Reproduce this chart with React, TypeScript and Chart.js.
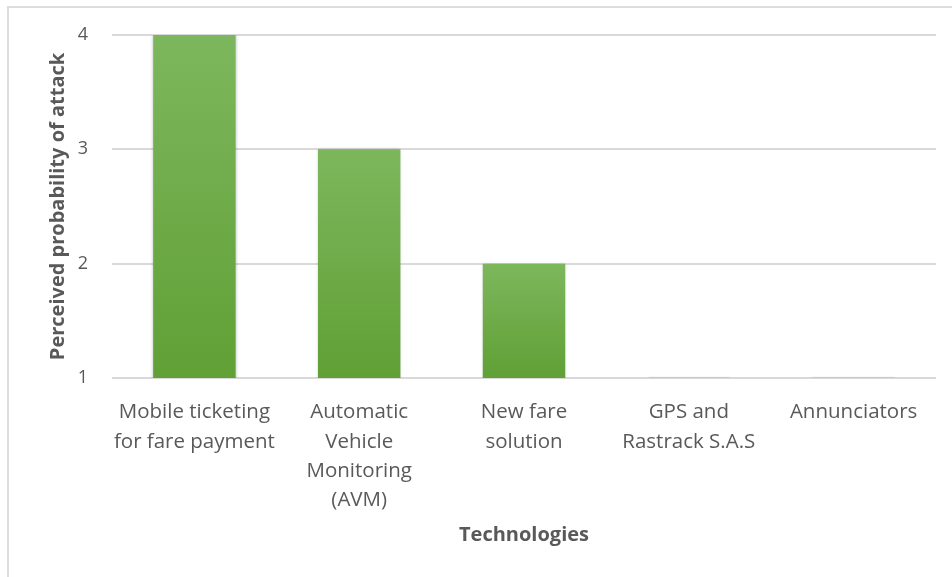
import React, { useEffect, useRef } from "react";
import { Chart, registerables } from "chart.js";

Chart.register(...registerables);

const categories: string[][] = [
  ["Mobile ticketing", "for fare payment"],
  ["Automatic", "Vehicle", "Monitoring", "(AVM)"],
  ["New fare", "solution"],
  ["GPS and", "Rastrack S.A.S"],
  ["Annunciators"],
];
const probability: number[] = [4, 3, 2, 1, 1];
const yMin = 1;
const yMax = 4;
const xTitle = "Technologies";
const yTitle = "Perceived probability of attack";

const TEXT = "#595959";
const FONT = "'Open Sans', 'Noto Sans', sans-serif";

const shadowPlugin = {
  id: "barShadow",
  beforeDatasetsDraw(chart: any) {
    const ctx = chart.ctx;
    ctx.save();
    ctx.shadowColor = "rgba(0,0,0,0.28)";
    ctx.shadowBlur = 3;
    ctx.shadowOffsetX = 0;
    ctx.shadowOffsetY = 0;
  },
  afterDatasetsDraw(chart: any) {
    chart.ctx.restore();
  },
};

export default function App() {
  const ref = useRef<HTMLCanvasElement | null>(null);
  useEffect(() => {
    if (!ref.current) return;
    const chart = new Chart(ref.current, {
      type: "bar",
      data: {
        labels: categories,
        datasets: [
          {
            data: probability,
            barPercentage: 0.5,
            categoryPercentage: 1.0,
            backgroundColor: (c: any) => {
              const ch = c.chart;
              const ys = ch.scales?.y;
              if (!ys || c.raw == null) return "#6aab40";
              const top = ys.getPixelForValue(c.raw);
              const base = ys.getPixelForValue(yMin);
              if (!isFinite(top) || !isFinite(base) || base - top < 1) return "#6aab40";
              const g = ch.ctx.createLinearGradient(0, top, 0, base);
              g.addColorStop(0, "#7db75d");
              g.addColorStop(1, "#60a035");
              return g;
            },
            borderWidth: 0,
          },
        ],
      },
      options: {
        responsive: false,
        animation: false,
        devicePixelRatio: 1,
        layout: { padding: { left: 0, right: 16, top: 35, bottom: 0 } },
        plugins: {
          legend: { display: false },
          tooltip: { enabled: false },
        },
        scales: {
          x: {
            afterFit: (s: any) => {
              s.height = 199;
            },
            grid: { display: false },
            border: { display: false },
            ticks: {
              color: TEXT,
              font: { family: FONT, size: 20.5, lineHeight: 1.42 },
              padding: 12,
              maxRotation: 0,
              autoSkip: false,
            },
            title: {
              display: true,
              text: xTitle,
              color: TEXT,
              font: { family: FONT, size: 20, weight: "bold" },
              padding: { top: 0, bottom: 30 },
            },
          },
          y: {
            min: yMin,
            max: yMax,
            afterFit: (s: any) => {
              s.width = 112;
            },
            grid: { color: "#d9d9d9", lineWidth: 2, drawTicks: false },
            border: { display: false },
            ticks: {
              stepSize: 1,
              color: TEXT,
              font: { family: FONT, size: 18 },
              padding: 24,
            },
            title: {
              display: true,
              text: yTitle,
              color: TEXT,
              font: { family: FONT, size: 20, weight: "bold" },
              padding: { top: 46, bottom: 0 },
            },
          },
        },
      },
      plugins: [shadowPlugin],
    } as any);
    return () => chart.destroy();
  }, []);

  return (
    <div style={{ position: "fixed", left: 0, top: 0, width: 952, height: 577, background: "#fff" }}>
      <div
        style={{
          position: "absolute",
          left: 7,
          top: 6,
          right: 0,
          bottom: 0,
          borderLeft: "2px solid #dcdcdc",
          borderTop: "2px solid #dcdcdc",
        }}
      />
      <canvas ref={ref} width={952} height={577} style={{ position: "absolute", left: 0, top: 0 }} />
    </div>
  );
}
